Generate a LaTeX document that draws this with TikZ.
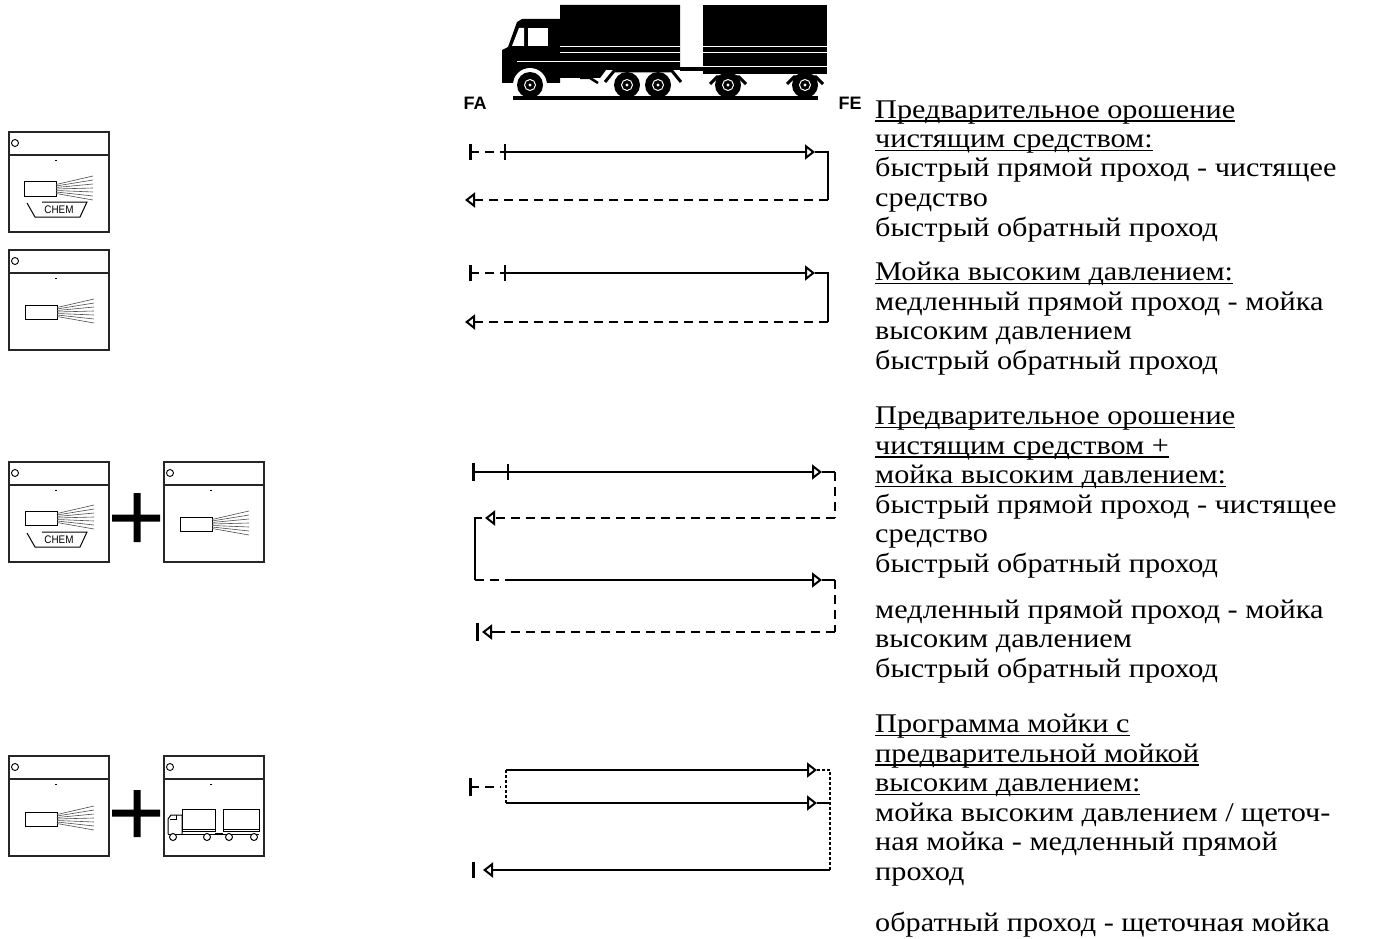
\documentclass[tikz,border=0pt]{standalone}
\usepackage{fontspec}
\setmainfont{Liberation Serif}[FakeStretch=1.12]
\newfontfamily\labelfont{Liberation Sans}
\usetikzlibrary{arrows.meta}

% underline sitting just below the baseline
\newcommand\uln[1]{\setbox0\hbox{#1}\rlap{\rule[-3.5pt]{\wd0}{1.1pt}}\box0}

\tikzset{
  pass/.style={line width=2pt},
  back/.style={line width=2pt, dash pattern=on 9pt off 6pt},
  link/.style={line width=1.4pt, dash pattern=on 3pt off 2pt},
  tip/.style={-{Triangle[open,length=10pt,width=15pt,line width=2pt]}},
  endbar/.style={line width=3pt},
  tick/.style={line width=1.4pt},
  panel/.style={draw=black!85, line width=1.3pt},
  txt/.style={anchor=base west, align=left, inner sep=0pt,
    font=\fontsize{27}{29.5}\selectfont},
  tag/.style={inner sep=0pt, font=\labelfont\bfseries\fontsize{18}{18}\selectfont}
}

% program panel: frame, header with lamp
\newcommand\panel[2]{%
  \draw[panel] (#1,#2) rectangle ++(100,100);
  \draw[panel] (#1,#2+23) -- ++(100,0);
  \draw[line width=0.9pt] (#1+6,#2+11) circle (3.5);
  \draw[line width=0.8pt] (#1+46,#2+28) -- ++(2,0);
}
% nozzle with spray fan, (#1,#2) = left middle
\newcommand\spray[2]{%
  \draw[line width=1pt] (#1,#2-7) rectangle ++(32,14);
  \foreach \k in {0,...,6}
    \draw[black!70, line width=0.6pt] (#1+32,#2-4.5+1.5*\k) -- (#1+69,#2-13+4*\k);
}
% detergent tray, #1 = node name, (#2,#3) = panel corner
\newcommand\tray[3]{%
  \draw[line width=1pt] (#2+33,#3+70) -- (#2+78,#3+70) -- (#2+71,#3+85)
    -- (#2+26,#3+85) -- (#2+18,#3+71);
  \node[inner sep=0pt, font=\labelfont\fontsize{11}{11}\selectfont, xscale=0.9]
    (#1) at (#2+50,#3+78) {CHEM};
}

\begin{document}
\begin{tikzpicture}[x=1pt, y=-1pt]
\useasboundingbox (0,0) rectangle (1374,939);

% big truck with trailer
\fill (502,83) -- (502,50) -- (508,47) -- (517,22) -- (522,19) -- (560,19)
  -- (560,5) -- (680,5) -- (680,70) -- (606,70) -- (600,78) -- (560,78)
  -- (560,83) -- cycle;
\fill (703,5) rectangle (827,74);
\fill[white] (528,28) rectangle (548,46);
\fill[white] (512,46) -- (519,28) -- (524,28) -- (524,46) -- cycle;
\draw[white, line width=1pt] (560,47) -- (680,47) (560,53) -- (680,53) (517,62) -- (680,62);
\draw[white, line width=1pt] (703,47) -- (827,47) (703,53) -- (827,53) (703,67) -- (827,67);
\fill[white] (530,85) circle (17);
\draw[line width=4pt] (680,69) -- (703,69);
\draw[line width=3pt] (605,82) -- (614,71) -- (672,71) -- (681,82);
\draw[line width=3pt] (710,84) -- (717,77) -- (739,77) -- (746,84);
\draw[line width=3pt] (787,84) -- (794,77) -- (816,77) -- (823,84);
\draw[line width=2.5pt] (580,78) -- (590,78) -- (598,83);
\foreach \x in {530,627,658,728,805} {
  \fill (\x,85) circle (13);
  \draw[white, line width=1pt] (\x,85) circle (5.5);
  \fill[white] (\x,85) circle (1.6);
}
\fill (513,96) rectangle (818,100);
\node[tag] (fa) at (475,103) {FA};
\node[tag] (fe) at (850,103) {FE};

% program panels
\panel{9}{132}   \spray{24}{189}  \tray{chemA}{9}{132}
\panel{9}{250}   \spray{25}{312}
\panel{9}{462}   \spray{25}{518}  \tray{chemB}{9}{462}
\panel{164}{462} \spray{180}{524}
\panel{9}{756}   \spray{25}{819}
\panel{164}{756}
\fill (112,514.5) rectangle (160,521.5) (133.5,493) rectangle (140.5,542);
\fill (112,809.5) rectangle (160,816.5) (133.5,790) rectangle (140.5,837);

% small truck in the brush panel
\begin{scope}[shift={(164,756)}, line width=1pt]
  \draw[fill=white] (4,78) -- (4,63) -- (7,59) -- (18,59) -- (18,78);
  \draw (6,63) -- (12,63) -- (12,59);
  \draw (18,53) rectangle (51,75) (18,73) -- (51,73);
  \draw (59,53) rectangle (95,75) (59,73) -- (95,73);
  \draw (4,78) -- (95,78) (51,77) -- (59,77);
  \foreach \x in {9,43,65,90}
    \draw[fill=white] (\x,81) circle (3.5);
\end{scope}

% pre-soak pass
\draw[endbar] (470,144) -- (470,160);
\draw[back] (470,152) -- (505,152);
\draw[tick] (505,144) -- (505,160);
\draw[pass, tip] (505,152) -- (815,152);
\draw[pass] (815,152) -| (828,200);
\draw[back, tip] (828,200) -- (465,200);

% high pressure pass
\draw[endbar] (470,265) -- (470,281);
\draw[back] (470,273) -- (505,273);
\draw[tick] (505,265) -- (505,281);
\draw[pass, tip] (505,273) -- (815,273);
\draw[pass] (815,273) -| (828,322);
\draw[back, tip] (828,322) -- (465,322);

% pre-soak + high pressure
\draw[endbar] (473,463) -- (473,481);
\draw[pass] (473,472) -- (508,472);
\draw[tick] (508,464) -- (508,480);
\draw[pass, tip] (508,472) -- (822,472);
\draw[pass] (822,472) -- (835,472);
\draw[back] (835,472) -- (835,518);
\draw[back, tip] (835,518) -- (485,518);
\draw[pass] (482,518) -| (475,580);
\draw[back] (475,580) -- (505,580);
\draw[pass, tip] (505,580) -- (822,580);
\draw[pass] (822,580) -- (835,580);
\draw[back] (835,580) -- (835,632);
\draw[back] (835,632) -- (505,632);
\draw[pass, tip] (505,632) -- (482,632);
\draw[endbar] (477,623) -- (477,641);

% brush program with high pressure pre-wash
\draw[endbar] (470,778) -- (470,796);
\draw[back] (470,787) -- (501,787);
\draw[link] (506,770) -- (506,803);
\draw[pass, tip] (506,770) -- (817,770);
\draw[link] (817,770) -- (830,770) -- (830,870);
\draw[pass, tip] (506,803) -- (817,803);
\draw[pass] (817,803) -- (830,803);
\draw[pass, tip] (830,870) -- (483,870);
\draw[endbar] (473,862) -- (473,878);

% descriptions (node sits on the baseline of its last line)
\node[txt] (presoak) at (875,236) {\uln{Предварительное орошение}\\
  \uln{чистящим средством:}\\
  быстрый прямой проход - чистящее\\
  средство\\
  быстрый обратный проход};
\node[txt] (hp) at (875,369) {\uln{Мойка высоким давлением:}\\
  медленный прямой проход - мойка\\
  высоким давлением\\
  быстрый обратный проход};
\node[txt] (combo) at (875,572) {\uln{Предварительное орошение}\\
  \uln{чистящим средством +}\\
  \uln{мойка высоким давлением:}\\
  быстрый прямой проход - чистящее\\
  средство\\
  быстрый обратный проход};
\node[txt] (combo2) at (875,677) {медленный прямой проход - мойка\\
  высоким давлением\\
  быстрый обратный проход};
\node[txt] (brush) at (875,880) {\uln{Программа мойки с}\\
  \uln{предварительной мойкой}\\
  \uln{высоким давлением:}\\
  мойка высоким давлением / щеточ-\\
  ная мойка - медленный прямой\\
  проход};
\node[txt] (brush2) at (875,931) {обратный проход - щеточная мойка};
\end{tikzpicture}
\end{document}
